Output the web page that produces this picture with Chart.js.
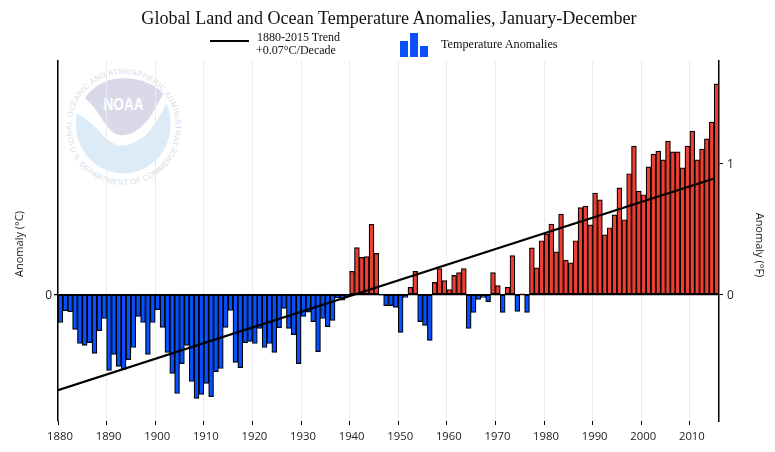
<!DOCTYPE html>
<html><head><meta charset="utf-8">
<script src="https://cdn.jsdelivr.net/npm/chart.js@4/dist/chart.umd.min.js"></script>
<style>
html,body{margin:0;padding:0;background:#fff;width:775px;height:452px;overflow:hidden}
#wrap{position:relative;width:775px;height:452px}
#logo,canvas{position:absolute;left:0;top:0}
.t{position:absolute;font-family:"Liberation Serif",serif;color:#111;white-space:nowrap;line-height:1}
.k{position:absolute;background:#0a4ffa}
.a{position:absolute;font-family:"Open Sans",sans-serif;font-size:11px;color:#222;white-space:nowrap;line-height:1;width:100px;height:12px;text-align:center}
</style></head><body>
<div id="wrap">
<svg id="logo" width="775" height="452" viewBox="0 0 775 452">
 <g transform="translate(50 60) scale(.3333)">
  <path d="M105 115 C130 75 175 55 220 55 C270 55 315 72 340 102 C320 135 305 170 285 190 C262 214 240 226 215 226 C190 224 172 205 150 168 C138 148 120 128 105 115Z" fill="#d9d9e9"/>
  <path d="M80 160 C105 172 130 195 155 222 C172 242 195 258 225 256 C250 252 268 238 285 228 C310 205 330 165 350 130 C358 150 362 170 362 195 C362 275 298 340 220 340 C142 340 78 275 78 195 C78 182 78 170 80 160Z" fill="#dcebf8"/>
  <path d="M178 238 C205 240 250 232 285 226 C260 240 235 246 205 258 C195 252 185 246 178 238Z" fill="#fff"/>
 </g>
 <text x="123.500" y="110" text-anchor="middle" font-family="Liberation Sans" font-weight="bold" font-size="16" fill="#fff" textLength="40" lengthAdjust="spacingAndGlyphs">NOAA</text>
 <defs>
  <path id="ringTop" d="M75.500 146 A52 52 0 1 1 171.500 146"/>
  <path id="ringBottom" d="M70 150 A58.500 58.500 0 0 0 177 150"/>
 </defs>
 <text font-family="Liberation Sans" font-size="7.600" fill="#d5dce7" letter-spacing=".35"><textPath href="#ringTop" startOffset="50%" text-anchor="middle">NATIONAL OCEANIC AND ATMOSPHERIC ADMINISTRATION</textPath></text>
 <text font-family="Liberation Sans" font-size="7.600" fill="#d5dce7" letter-spacing=".35"><textPath href="#ringBottom" startOffset="50%" text-anchor="middle">U.S. DEPARTMENT OF COMMERCE</textPath></text>
</svg>
<canvas id="c" width="775" height="452"></canvas>
<div class="t" style="left:0;width:778px;top:9px;text-align:center;font-size:18.100px">Global Land and Ocean Temperature Anomalies, January-December</div>
<div style="position:absolute;left:210px;top:40px;width:39px;height:2px;background:#000"></div>
<div class="t" style="left:257px;top:30.500px;font-size:12px">1880-2015 Trend</div>
<div class="t" style="left:256px;top:44px;font-size:12px">+0.07°C/Decade</div>
<div class="k" style="left:400px;top:41px;width:8px;height:16px"></div>
<div class="k" style="left:410px;top:33px;width:8px;height:24px"></div>
<div class="k" style="left:420px;top:46px;width:8px;height:11px"></div>
<div class="t" style="left:441px;top:38px;font-size:12.200px">Temperature Anomalies</div>
<div class="a" style="left:-31px;top:238px;transform:rotate(-90deg)">Anomaly (°C)</div>
<div class="a" style="left:710px;top:239px;transform:rotate(90deg)">Anomaly (°F)</div>
</div>
<script>
const years = [];
for (let y = 1880; y <= 2015; y++) years.push(y);
const anomalies = [
 -.119,-.069,-.073,-.148,-.208,-.216,-.204,-.250,-.153,-.102,
 -.322,-.254,-.305,-.318,-.276,-.225,-.093,-.119,-.254,-.119,
 -.064,-.140,-.246,-.335,-.420,-.293,-.216,-.369,-.441,-.424,
 -.377,-.433,-.327,-.314,-.140,-.068,-.288,-.310,-.204,-.199,
 -.208,-.144,-.225,-.208,-.246,-.141,-.059,-.144,-.170,-.293,
 -.093,-.075,-.115,-.242,-.102,-.136,-.110,-.014,-.024,-.010,
 .098,.199,.157,.161,.297,.174,-.002,-.047,-.047,-.055,
 -.161,-.013,.030,.098,-.115,-.131,-.195,.051,.110,.059,
 .021,.081,.093,.110,-.144,-.076,-.021,-.013,-.030,.093,
 .038,-.076,.030,.165,-.072,.003,-.076,.198,.113,.228,
 .257,.298,.181,.341,.146,.134,.228,.368,.375,.295,
 .430,.401,.253,.283,.338,.452,.317,.512,.629,.438,
 .423,.541,.595,.608,.571,.650,.605,.605,.537,.629,
 .693,.571,.616,.660,.731,.893];
const trendYears = [1880, 2015];
const trendValues = [-.406, .492];
const yMinC = -.5365, yMaxC = .99;
const CtoF = 1.8;
const tickColor = '#222';

new Chart(document.getElementById('c'), {
 data: {
  datasets: [
   {type:'line', order:0, data: trendYears.map((x,i)=>({x, y:trendValues[i]})),
    borderColor:'#000', borderWidth:2.200, pointRadius:0, yAxisID:'y', xAxisID:'x'},
   {type:'bar', order:1, data: years.map((x,i)=>({x:x+.5, y:anomalies[i]})),
    backgroundColor: c => c.raw && c.raw.y < 0 ? '#0550ff' : '#ef3e32',
    borderColor:'#000', borderWidth:1.200, borderSkipped:false,
    barPercentage:1, categoryPercentage:1, yAxisID:'y', xAxisID:'x'}
  ]
 },
 options: {
  responsive:false, animation:false, devicePixelRatio:1,
  layout:{padding:{top:61,left:0,right:0,bottom:0}},
  plugins:{legend:{display:false}, title:{display:false}, tooltip:{enabled:false}},
  scales:{
   x:{type:'linear', position:'bottom', min:1880, max:2016, offset:false,
    afterFit:s=>{s.height=31},
    border:{display:false},
    grid:{offset:false, color:'#ebebeb', lineWidth:1, tickColor:'#000', tickLength:4, tickWidth:1},
    ticks:{stepSize:10, includeBounds:false, maxRotation:0, autoSkip:false, font:{family:'"Open Sans"',size:11.300}, color:tickColor, padding:5, labelOffset:2, callback:v=>String(v)}},
   y:{type:'linear', position:'left', min:yMinC, max:yMaxC,
    afterFit:s=>{s.width=58},
    border:{display:true, color:'#000', width:1.500},
    grid:{color:'#000', lineWidth:1.300, tickLength:4, tickColor:'#000'},
    ticks:{stepSize:1, includeBounds:false, font:{family:'"Open Sans"',size:12}, color:tickColor, padding:2, labelOffset:1.500, callback:v=>String(v)}},
   yF:{type:'linear', position:'right', min:yMinC*CtoF, max:yMaxC*CtoF,
    afterFit:s=>{s.width=56},
    border:{display:true, color:'#000', width:1.500},
    grid:{drawOnChartArea:false, tickLength:4, tickColor:'#000'},
    ticks:{stepSize:1, includeBounds:false, font:{family:'"Open Sans"',size:12}, color:tickColor, padding:4, labelOffset:1.500, callback:v=>String(v)}}
  }
 }
});
</script>
</body></html>
